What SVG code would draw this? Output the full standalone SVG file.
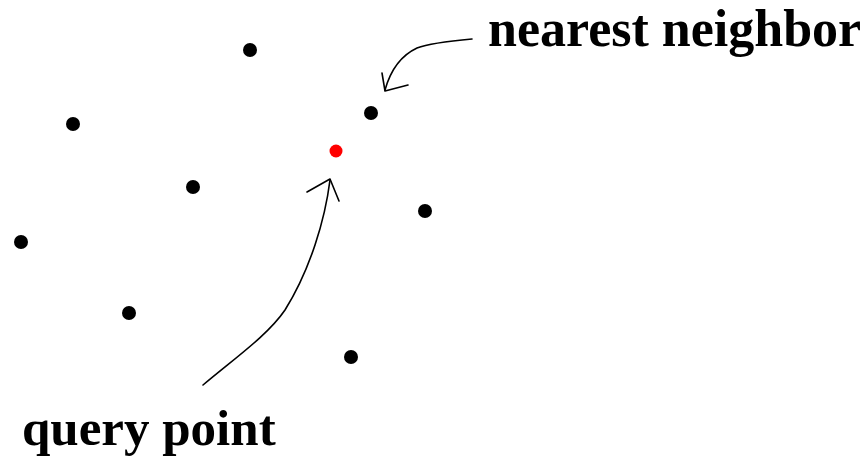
<svg xmlns="http://www.w3.org/2000/svg" width="867" height="457" viewBox="0 0 867 457">
<style>
.pt{fill:#000}
.q{fill:#ff0000}
.lbl{font-family:"Liberation Serif","Times New Roman",serif;font-weight:bold;font-size:52px;fill:#000}
.ar{fill:none;stroke:#000;stroke-width:1.6;stroke-linecap:round;stroke-linejoin:round}
</style>
<rect width="867" height="457" fill="#fff"/>
<g id="points">
<circle class="pt" cx="250" cy="50" r="7"/>
<circle class="pt" cx="73" cy="124" r="7"/>
<circle class="pt" cx="371" cy="113" r="7"/>
<circle class="pt" cx="193" cy="187" r="7"/>
<circle class="pt" cx="425" cy="211" r="7"/>
<circle class="pt" cx="21" cy="242" r="7"/>
<circle class="pt" cx="129" cy="313" r="7"/>
<circle class="pt" cx="351" cy="357" r="7"/>
</g>
<g id="query"><circle class="q" cx="336" cy="151" r="6.5"/></g>
<g id="connectors">
<path class="ar" d="M472 39 C450 41 430 43 417 48 C400 56 390 72 385 90"/>
<path class="ar" d="M382 73 L385 91 L408 85"/>
<path class="ar" d="M203 385 C235 358 268 335 285 310 C310 270 325 220 330 180"/>
<path class="ar" d="M307 192 L330 179 L339 201"/>
</g>
<g id="label-nn"><text class="lbl" x="488" y="46">nearest neighbor</text></g>
<g id="label-q"><text class="lbl" x="22" y="445" style="font-size:51px">query point</text></g>
</svg>
